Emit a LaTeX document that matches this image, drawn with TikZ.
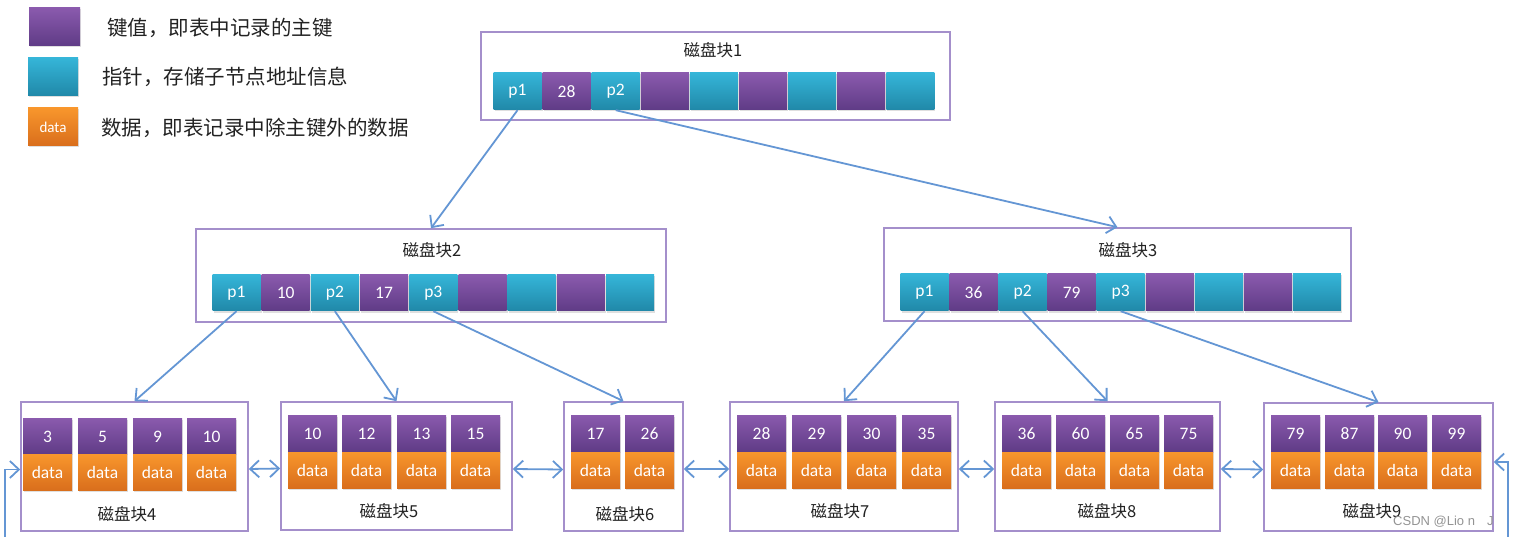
\documentclass[tikz,border=0pt]{standalone}
\usepackage{fontspec}
\setmainfont{Carlito}
\newfontfamily\cjk{Noto Sans CJK SC}
\newfontfamily\wm{Liberation Sans}
\usetikzlibrary{arrows.meta,shadows}
\definecolor{ptop}{HTML}{8A5AAD}
\definecolor{pbot}{HTML}{5F3B86}
\definecolor{ttop}{HTML}{35B5D8}
\definecolor{tbot}{HTML}{2088A8}
\definecolor{otop}{HTML}{F8962C}
\definecolor{obot}{HTML}{D96E1C}
\definecolor{framec}{HTML}{A48FCB}
\definecolor{linkc}{HTML}{6496D4}
\definecolor{titlec}{HTML}{222222}
\tikzset{
  cellbase/.style={inner sep=0pt, text=white, font=\fontsize{17.5}{17.5}\selectfont,
    drop shadow={opacity=0.25, shadow xshift=1pt, shadow yshift=-1.5pt}},
  keycell/.style={cellbase, top color=ptop, bottom color=pbot, minimum width=48pt, minimum height=37pt},
  ptrcell/.style={cellbase, top color=ttop, bottom color=tbot, minimum width=48pt, minimum height=37pt},
  datacell/.style={cellbase, top color=otop, bottom color=obot, minimum width=48pt, minimum height=37pt},
  frame/.style={draw=framec, line width=1.6pt, inner sep=0pt, fill=none},
  title/.style={font=\cjk\fontsize{16.5}{16.5}\selectfont, text=titlec, inner sep=0pt},
  legtext/.style={font=\cjk\fontsize{20.5}{20.5}\selectfont, text=titlec, inner sep=0pt, anchor=west},
  link/.style={draw=linkc, line width=1.8pt},
  tip/.style={-{Straight Barb[length=9pt,width=17pt,line width=1.8pt]}},
  dtip/.style={{Straight Barb[length=9pt,width=17pt,line width=1.8pt]}-{Straight Barb[length=9pt,width=17pt,line width=1.8pt]}},
}
\begin{document}
\begin{tikzpicture}[x=1pt,y=-1pt]
\useasboundingbox (0,0) rectangle (1515,537);

% ---------- legend ----------
\node[keycell, minimum width=51pt, minimum height=38pt] (lk) at (54.5,27) {};
\node[ptrcell, minimum width=50pt, minimum height=38pt] (lp) at (53,77) {};
\node[datacell, minimum width=50pt, minimum height=38pt, font=\fontsize{15}{15}\selectfont] (ld) at (53,127) {data};
\node[legtext] (lkt) at (107,28) {键值，即表中记录的主键};
\node[legtext] (lpt) at (102,77) {指针，存储子节点地址信息};
\node[legtext] (ldt) at (101,128) {数据，即表记录中除主键外的数据};

% ---------- block 1 ----------
\node[frame, minimum width=469pt, minimum height=88pt] (b1) at (715.5,76) {};
\node[title] (b1t) at (713,50) {磁盘块1};
\foreach \i/\s/\t in {0/ptrcell/p1,1/keycell/28,2/ptrcell/p2,3/keycell/,4/ptrcell/,5/keycell/,6/ptrcell/,7/keycell/,8/ptrcell/}
  \node[\s] (b1c\i) at ({493+49.1*\i+24.5},91.5) {\t};

% ---------- block 2 ----------
\node[frame, minimum width=470pt, minimum height=93pt] (b2) at (431,275.5) {};
\node[title] (b2t) at (432,250) {磁盘块2};
\foreach \i/\s/\t in {0/ptrcell/p1,1/keycell/10,2/ptrcell/p2,3/keycell/17,4/ptrcell/p3,5/keycell/,6/ptrcell/,7/keycell/,8/ptrcell/}
  \node[\s, minimum height=36pt] (b2c\i) at ({212+49.2*\i+24.5},293) {\t};

% ---------- block 3 ----------
\node[frame, minimum width=467pt, minimum height=93pt] (b3) at (1117.5,274.5) {};
\node[title] (b3t) at (1128,250) {磁盘块3};
\foreach \i/\s/\t in {0/ptrcell/p1,1/keycell/36,2/ptrcell/p2,3/keycell/79,4/ptrcell/p3,5/keycell/,6/ptrcell/,7/keycell/,8/ptrcell/}
  \node[\s] (b3c\i) at ({900+49.05*\i+24.5},292.5) {\t};

% ---------- leaf blocks ----------
\node[frame, minimum width=227pt, minimum height=129pt] (b4) at (134.5,466.5) {};
\node[title] (b4t) at (127,514) {磁盘块4};
\foreach \i/\x/\k in {0/23/3,1/78/5,2/133/9,3/187/10}{
  \node[keycell, minimum width=49pt, minimum height=36pt] (b4k\i) at ({\x+24.5},436.5) {\k};
  \node[datacell, minimum width=49pt, minimum height=36pt] (b4d\i) at ({\x+24.5},472.5) {data};
}
\node[frame, minimum width=231pt, minimum height=128pt] (b5) at (396.5,466) {};
\node[title] (b5t) at (389,511) {磁盘块5};
\foreach \i/\x/\k in {0/288/10,1/342/12,2/397/13,3/451/15}{
  \node[keycell, minimum width=49pt, minimum height=37pt] (b5k\i) at ({\x+24.5},433.5) {\k};
  \node[datacell, minimum width=49pt, minimum height=36pt] (b5d\i) at ({\x+24.5},470) {data};
}
\node[frame, minimum width=119pt, minimum height=129pt] (b6) at (623.5,466.5) {};
\node[title] (b6t) at (625,514) {磁盘块6};
\foreach \i/\x/\k in {0/571/17,1/625/26}{
  \node[keycell, minimum width=49pt, minimum height=37pt] (b6k\i) at ({\x+24.5},433.5) {\k};
  \node[datacell, minimum width=49pt, minimum height=36pt] (b6d\i) at ({\x+24.5},470) {data};
}
\node[frame, minimum width=228pt, minimum height=129pt] (b7) at (844,466.5) {};
\node[title] (b7t) at (840,511) {磁盘块7};
\foreach \i/\x/\k in {0/737/28,1/792/29,2/847/30,3/902/35}{
  \node[keycell, minimum width=49pt, minimum height=37pt] (b7k\i) at ({\x+24.5},433.5) {\k};
  \node[datacell, minimum width=49pt, minimum height=36pt] (b7d\i) at ({\x+24.5},470) {data};
}
\node[frame, minimum width=225pt, minimum height=129pt] (b8) at (1107.5,466.5) {};
\node[title] (b8t) at (1107,511) {磁盘块8};
\foreach \i/\x/\k in {0/1002/36,1/1056/60,2/1110/65,3/1164/75}{
  \node[keycell, minimum width=49pt, minimum height=37pt] (b8k\i) at ({\x+24.5},433.5) {\k};
  \node[datacell, minimum width=49pt, minimum height=36pt] (b8d\i) at ({\x+24.5},470) {data};
}
\node[frame, minimum width=229pt, minimum height=128pt] (b9) at (1378.5,467) {};
\node[title] (b9t) at (1372,511) {磁盘块9};
\foreach \i/\x/\k in {0/1271/79,1/1325/87,2/1378/90,3/1432/99}{
  \node[keycell, minimum width=49pt, minimum height=37pt] (b9k\i) at ({\x+24.5},433.5) {\k};
  \node[datacell, minimum width=49pt, minimum height=36pt] (b9d\i) at ({\x+24.5},470) {data};
}

% ---------- tree links ----------
\draw[link, tip] (b1c0.south) -- (b2.north);
\draw[link, tip] (b1c2.south) -- (b3.north);
\draw[link, tip] (b2c0.south) -- (b4.north);
\draw[link, tip] (b2c2.south) -- (b5.north);
\draw[link, tip] (b2c4.south) -- (b6.north);
\draw[link, tip] (b3c0.south) -- (b7.north);
\draw[link, tip] (b3c2.south) -- (b8.north);
\draw[link, tip] (b3c4.south) -- (b9.north);

% ---------- leaf chain ----------
\draw[link, dtip] ([yshift=-2.5pt]b4.east) -- ([yshift=-2.5pt]b5.west);
\draw[link, dtip] ([yshift=-3pt]b5.east) -- ([yshift=-3pt]b6.west);
\draw[link, dtip] ([yshift=-2.5pt]b6.east) -- ([yshift=-2.5pt]b7.west);
\draw[link, dtip] ([yshift=-2.5pt]b7.east) -- ([yshift=-2.5pt]b8.west);
\draw[link, dtip] ([yshift=-2.5pt]b8.east) -- ([yshift=-2.5pt]b9.west);
\coordinate (lb) at (5,537);
\coordinate (rb) at (1508,537);
\draw[link, tip] (lb) |- ([yshift=-3pt]b4.west);
\draw[link, tip] (rb) |- ([yshift=5pt]b9.east);

% ---------- watermark ----------
\node[font=\wm\fontsize{13}{13}\selectfont, text=gray!85, inner sep=0pt, anchor=west] (wm) at (1393,522) {CSDN @Lio n\hspace{12pt}J};
\end{tikzpicture}
\end{document}
